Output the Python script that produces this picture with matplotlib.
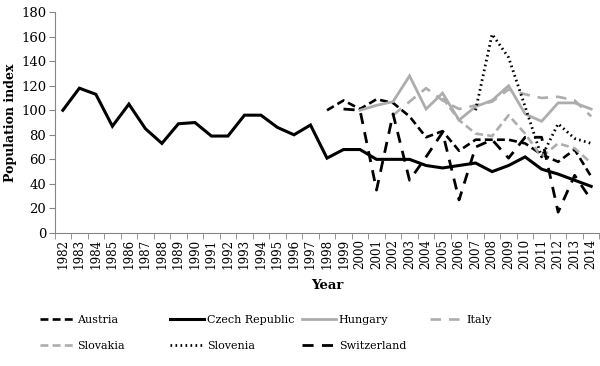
import matplotlib
matplotlib.use("Agg")
import matplotlib.pyplot as plt
import numpy as np

nan = np.nan

years = [str(y) for y in range(1982, 2015)]

# population index per country, NaN where there is no data
austria = [nan] * 16 + [100, 108, 101, 109, 106, 95, 78, 83, 67, 76, 76, 76, 73, 64, 58, 68, 46]
czech = [100, 118, 113, 87, 105, 85, 73, 89, 90, 79, 79, 96, 96, 86, 80, 88,
         61, 68, 68, 60, 60, 60, 55, 53, 55, 57, 50, 55, 62, 52, 48, 43, 38]
hungary = [nan] * 18 + [100, 104, 107, 128, 101, 114, 92, 103, 108, 120, 97, 91, 106, 106, 101]
italy = [nan] * 20 + [96, 107, 118, 108, 101, 104, 107, 117, 113, 110, 111, 108, 95]
slovakia = [nan] * 23 + [110, 92, 81, 79, 96, 81, 62, 73, 69, 57]
slovenia = [nan] * 25 + [100, 162, 143, 103, 62, 89, 77, 73]
switzerland = [nan] * 17 + [101, 100, 35, 97, 43, 62, 82, 27, 70, 76, 61, 78, 78, 17, 47, 27]

black = "black"
gray = "#adadad"

series = [
    ("Austria", austria, black, (0, (3, 1.6)), 1.9),
    ("Czech Republic", czech, black, "-", 2.2),
    ("Hungary", hungary, gray, "-", 2.0),
    ("Italy", italy, gray, (0, (4, 3)), 1.9),
    ("Slovakia", slovakia, gray, (0, (3, 1.6)), 1.9),
    ("Slovenia", slovenia, black, (0, (0.6, 1.2)), 2.0),
    ("Switzerland", switzerland, black, (0, (4, 3)), 2.0),
]

plt.rcParams['font.family'] = ['DejaVu Serif']

W, H = 600, 366
fig = plt.figure(figsize=(W / 100, H / 100), dpi=100)
ax = fig.add_axes([0.091, 0.3634, 0.908, 0.6036])

x = np.arange(len(years))
lines = {}
for name, vals, col, ls, lw in series:
    ln, = ax.plot(x, np.array(vals, dtype=float), color=col, linestyle=ls,
                  linewidth=lw, label=name, solid_joinstyle="miter")
    lines[name] = ln

ax.set_xlim(-0.5, len(years) - 0.5)
ax.set_ylim(0, 180)
ax.set_yticks(range(0, 181, 20))
ax.set_xticks(x)
ax.set_xticklabels(years, rotation=90, fontsize=8.6)
ax.set_xticks(np.arange(-0.5, len(years), 1), minor=True)
ax.tick_params(axis="x", which="major", length=0, pad=4)
ax.tick_params(axis="x", which="minor", length=4, color="#868686")
ax.tick_params(axis="y", length=4, color="#868686", labelsize=9.5, pad=2)

for side in ["top", "right"]:
    ax.spines[side].set_visible(False)
for side in ["left", "bottom"]:
    ax.spines[side].set_color("#868686")

ax.set_ylabel("Population index", fontweight="bold", fontsize=9, labelpad=3)
ax.set_xlabel("Year", fontweight="bold", fontsize=9.5, labelpad=7)

# one legend per column so the columns sit where the reference has them
columns = [["Austria", "Slovakia"], ["Czech Republic", "Slovenia"],
           ["Hungary", "Switzerland"], ["Italy"]]
col_x = [40, 170, 302, 430]
for names, cx in zip(columns, col_x):
    leg = fig.legend([lines[n] for n in names], names, loc="upper left",
                     bbox_to_anchor=(cx / W, 1 - 315 / H), frameon=False, fontsize=8,
                     handlelength=3.1, handletextpad=0.2, labelspacing=1.45,
                     borderpad=0, borderaxespad=0)

fig.savefig("out.png", dpi=100)
